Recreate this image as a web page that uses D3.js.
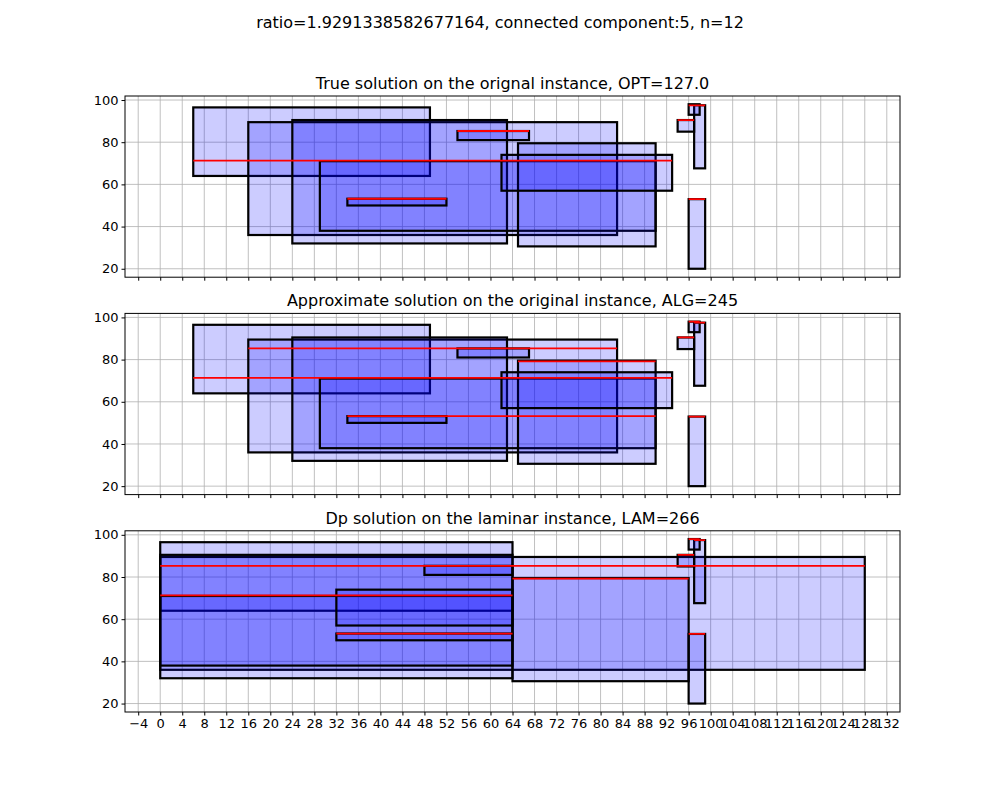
<!DOCTYPE html>
<html><head><meta charset="utf-8">
<script src="https://cdn.jsdelivr.net/npm/d3@7"></script>
<style>body{margin:0;background:#fff}text{font-family:"DejaVu Sans",sans-serif}</style>
</head><body><svg id="c" width="1000" height="800"></svg>
<script>
const suptitle = "ratio=1.9291338582677164, connected component:5, n=12";
const titles = ["True solution on the orignal instance, OPT=127.0",
  "Approximate solution on the original instance, ALG=245",
  "Dp solution on the laminar instance, LAM=266"];
// rects: [x0, x1, y0, y1]
const rectsOrig = [
  [6,49,64,96.5],[16,83,36,89.5],[24,63,32,90.5],[29,90,38,71],[65,90,30.6,79.5],
  [62,93,57,74],[34,52,50,53.2],[54,67,81,85.3],[94,97,85,90.5],[97,99,67.6,97.5],
  [96,98,93,98],[96,99,20,53]
];
const rectsLam = [
  [0,64,64,96.5],[0,128,36,89.5],[0,64,32,90.5],[0,64,38,71],[64,96,30.6,79.5],
  [32,64,57,74],[32,64,50,53.2],[48,64,81,85.3],[94,97,85,90.5],[97,99,67.6,97.5],
  [96,98,93,98],[96,99,20,53]
];
// red lines: [x0, x1, y]
const redTrue = [[6,93,71.3],[54,67,85.3],[34,52,53.2],[94,97,90.5],[96,99,97.5],[96,99,53]];
const redAlg = [[16,83,85.3],[6,93,71.3],[34,90,53.2],[65,90,79.2],[94,97,90.5],[96,98,98],[97,99,97.5],[96,99,53]];
const redLam = [[0,128,85.3],[0,64,71.3],[32,64,53.2],[64,96,79.2],[94,97,90.5],[96,98,98],[97,99,97.5],[96,99,53]];
const xTicks = d3.range(-4,133,4);
const yTicks = [20,40,60,80,100];

const panels = [[rectsOrig,redTrue],[rectsOrig,redAlg],[rectsLam,redLam]];
const svg = d3.select("#c");
svg.append("text").attr("x",500).attr("y",28).attr("text-anchor","middle").attr("font-size",16).text(suptitle);
const L=125,R=900,H=181.2,gap=36.2,T0=96;
const x = d3.scaleLinear().domain([-6.4,134.4]).range([L,R]);
panels.forEach((p,i)=>{
  const top=T0+i*(H+gap);
  const y=d3.scaleLinear().domain([19.9-0.05*78.1,98+0.05*78.1]).range([top+H,top]);
  const g=svg.append("g");
  g.append("clipPath").attr("id","cp"+i).append("rect").attr("x",L).attr("y",top).attr("width",R-L).attr("height",H);
  const gg=g.append("g").attr("clip-path",`url(#cp${i})`);
  xTicks.forEach(t=>gg.append("line").attr("x1",x(t)).attr("x2",x(t)).attr("y1",top).attr("y2",top+H).attr("stroke","#b0b0b0").attr("stroke-width",0.8));
  yTicks.forEach(t=>gg.append("line").attr("x1",L).attr("x2",R).attr("y1",y(t)).attr("y2",y(t)).attr("stroke","#b0b0b0").attr("stroke-width",0.8));
  gg.selectAll("rect.r").data(p[0]).join("rect").attr("class","r")
    .attr("x",d=>x(d[0])).attr("width",d=>x(d[1])-x(d[0]))
    .attr("y",d=>y(d[3])).attr("height",d=>y(d[2])-y(d[3]))
    .attr("fill","rgba(0,0,255,0.2)").attr("stroke","black").attr("stroke-width",2.2);
  gg.selectAll("line.red").data(p[1]).join("line").attr("class","red")
    .attr("x1",d=>x(d[0])).attr("x2",d=>x(d[1])).attr("y1",d=>y(d[2])).attr("y2",d=>y(d[2]))
    .attr("stroke","red").attr("stroke-width",1.8);
  const ax=d3.axisBottom(x).tickValues(xTicks).tickSize(3.5).tickSizeOuter(0).tickFormat(i===2?(d=>String(d).replace("-","\u2212")):"");
  g.append("g").attr("transform",`translate(0,${top+H})`).call(ax).call(s=>{s.select(".domain").remove();s.selectAll("text").attr("font-size",13).attr("fill","#000").attr("font-family","DejaVu Sans");s.selectAll("line").attr("stroke","#000");});
  const ay=d3.axisLeft(y).tickValues(yTicks).tickSize(3.5).tickSizeOuter(0);
  g.append("g").attr("transform",`translate(${L},0)`).call(ay).call(s=>{s.select(".domain").remove();s.selectAll("text").attr("font-size",13).attr("fill","#000").attr("font-family","DejaVu Sans");s.selectAll("line").attr("stroke","#000");});
  g.append("rect").attr("x",L).attr("y",top).attr("width",R-L).attr("height",H).attr("fill","none").attr("stroke","#000").attr("stroke-width",1);
  g.append("text").attr("x",(L+R)/2).attr("y",top-7).attr("text-anchor","middle").attr("font-size",16).text(titles[i]);
});
</script></body></html>
